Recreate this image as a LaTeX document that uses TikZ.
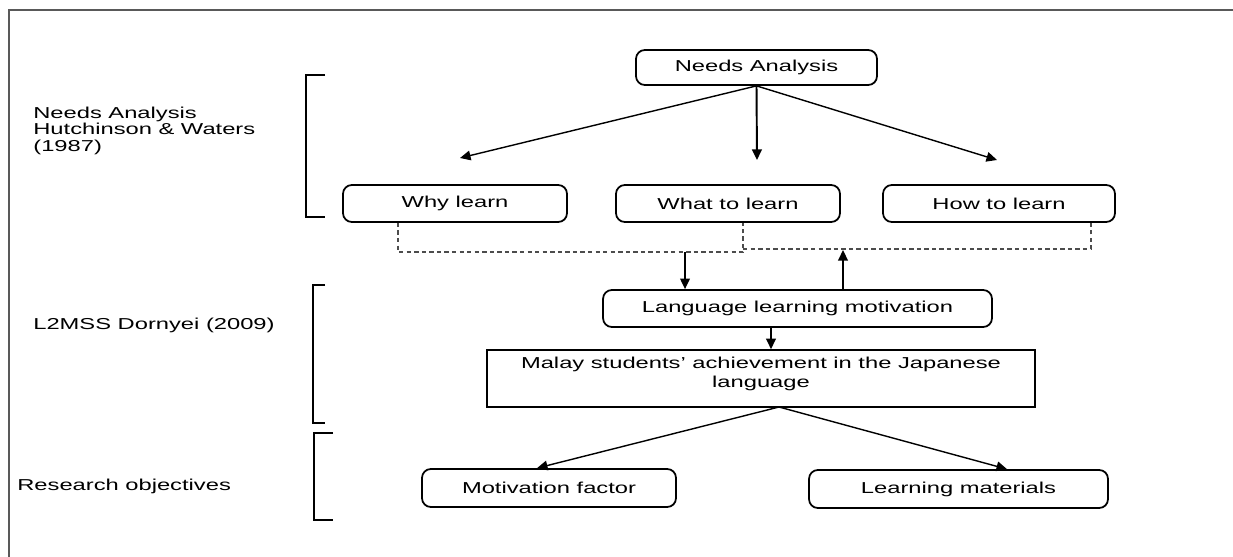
\documentclass[tikz,border=0pt]{standalone}
\usepackage{fontspec}
\setmainfont[FakeStretch=1.5]{Liberation Sans}
\usetikzlibrary{arrows.meta}

\tikzset{
  rbox/.style={draw, rounded corners=5pt, line width=1pt, inner sep=0pt, minimum height=0.74cm},
  sbox/.style={draw, line width=0.9pt, inner sep=0pt},
  lbl/.style={align=left, inner sep=0pt},
  dline/.style={gray!60!black, line width=0.7pt, dash pattern=on 2.5pt off 1.8pt},
  brk/.style={line width=0.8pt},
}

\begin{document}
\begin{tikzpicture}[x=0.02cm, y=-0.02cm, >={Triangle[length=6pt,width=5.5pt]}, font=\fontsize{9}{9.2}\selectfont]
  \useasboundingbox (0,0) rectangle (1233,557);
  % Draw frame
  \draw[gray!70!black, line width=0.6pt] (9,557) -- (9,10) -- (1233,10);

  % Draw labels on the left
  \node[lbl, anchor=north west] (lneeds) at (33,107) {Needs Analysis\\Hutchinson \& Waters\\(1987)};
  \node[lbl, anchor=west] (ll2) at (33,325) {L2MSS Dornyei (2009)};
  \node[lbl, anchor=west] (lres) at (17,486) {Research objectives};

  % Draw brackets
  \draw[brk] (325,75) -- (306,75) -- (306,217) -- (325,217);
  \draw[brk] (325,285) -- (313,285) -- (313,423) -- (325,423);
  \draw[brk] (333,433) -- (314,433) -- (314,520) -- (333,520);

  % Draw boxes
  \node[rbox, minimum width=4.82cm, minimum height=0.7cm] (needs) at (756.5,67.5) {Needs Analysis};
  \node[rbox, minimum width=4.48cm] (why) at (455,203.5) {Why learn};
  \node[rbox, minimum width=4.48cm] (what) at (728,203.5) {What to learn};
  \node[rbox, minimum width=4.64cm] (how) at (999,203.5) {How to learn};
  \node[rbox, minimum width=7.78cm] (motiv) at (797.5,308.5) {Language learning motivation};
  \node[sbox, minimum width=10.96cm, minimum height=1.14cm, align=center] (malay) at (761,378.5)
    {Malay students' achievement in the Japanese\\[1.2pt]language\rule[-7pt]{0pt}{1pt}};
  \node[rbox, minimum width=5.08cm, minimum height=0.76cm] (mfac) at (549,488) {Motivation factor};
  \node[rbox, minimum width=5.98cm, minimum height=0.76cm] (lmat) at (958.5,489) {Learning materials};

  % Draw arrows from needs analysis
  \coordinate (nw) at (460,158);
  \coordinate (nm) at (757,160);
  \coordinate (nh) at (997,160);
  \draw[->, line width=0.8pt] (needs.south) -- (nw);
  \draw[->, line width=1.1pt] (needs.south) -- (nm);
  \draw[->, line width=0.8pt] (needs.south) -- (nh);

  % Draw dashed link
  \coordinate (dw) at (398,252);
  \coordinate (dm) at (743,252);
  \coordinate (dh) at (1091,249);
  \draw[dline] (dw |- why.south) -- (dw) -- (dm) -- (dm |- what.south);
  \draw[dline] (dm |- dh) -- (dh) -- (dh |- how.south);

  % Draw arrows to and from motivation
  \coordinate (dn) at (685,252);
  \coordinate (up) at (843,250);
  \draw[->, line width=0.9pt] (dn) -- (dn |- motiv.north);
  \draw[->, line width=0.9pt] (up |- motiv.north) -- (up);
  \coordinate (mm) at (771,0);
  \draw[->, line width=0.9pt] (motiv.south -| mm) -- (malay.north -| mm);

  % Draw arrows to research objectives
  \coordinate (apex) at (779,407);
  \coordinate (mf) at (537,0);
  \coordinate (lm) at (1007,0);
  \draw[->, line width=0.8pt] (apex) -- (mfac.north -| mf);
  \draw[->, line width=0.8pt] (apex) -- (lmat.north -| lm);
\end{tikzpicture}
\end{document}
